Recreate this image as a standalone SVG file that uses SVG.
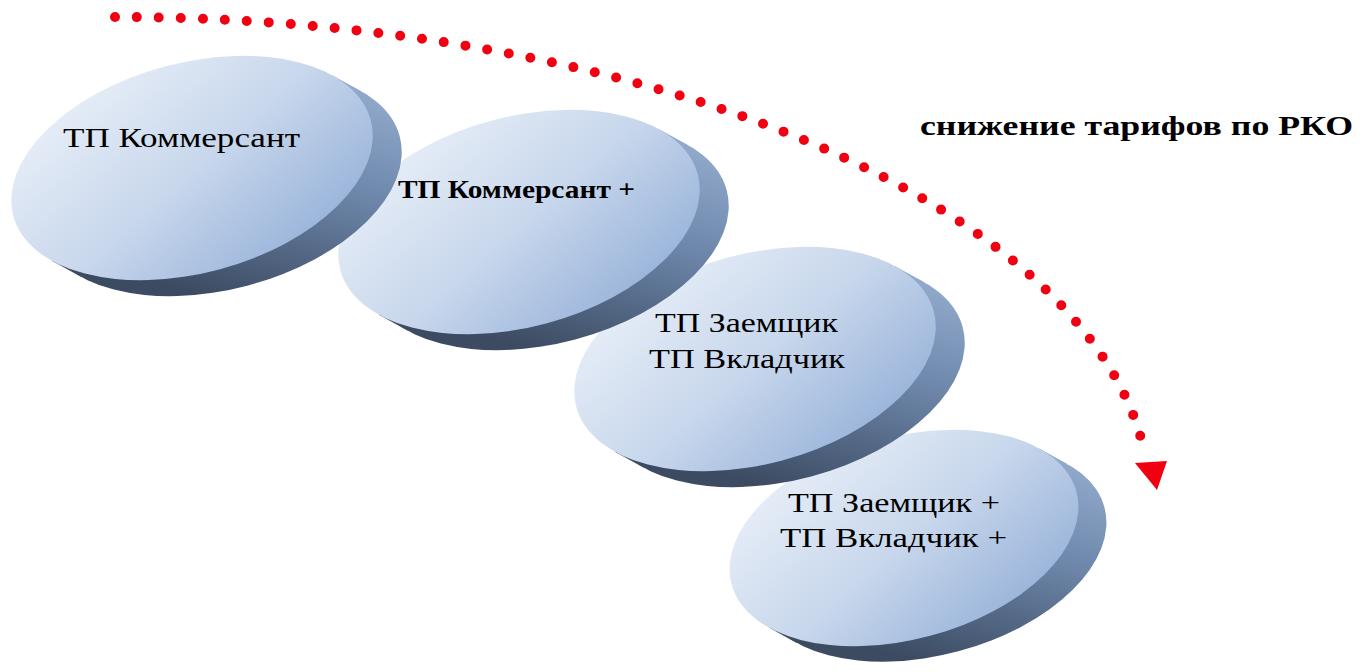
<svg xmlns="http://www.w3.org/2000/svg" width="1364" height="672" viewBox="0 0 1364 672">
<defs>
<linearGradient id="face" gradientUnits="userSpaceOnUse" x1="-50" y1="-110" x2="60" y2="110">
<stop offset="0" stop-color="#e3ebf6"/>
<stop offset="0.5" stop-color="#c8d7ec"/>
<stop offset="1" stop-color="#9cb6db"/>
</linearGradient>
<linearGradient id="side" gradientUnits="userSpaceOnUse" x1="140" y1="-90" x2="0" y2="140">
<stop offset="0" stop-color="#9bb3d4"/>
<stop offset="0.45" stop-color="#6f89ad"/>
<stop offset="1" stop-color="#3c4b62"/>
</linearGradient>
<g id="disc">
<g fill="url(#side)">
<ellipse cx="23.87" cy="22.97" rx="185" ry="105"/>
<polygon points="159.4,-53.3 183.3,-30.3 -135.5,76.3 -159.4,53.3"/>
</g>
<ellipse cx="0" cy="0" rx="185" ry="105" fill="url(#face)"/>
</g>
</defs>
<style>
.t{font-family:"Liberation Serif","Times New Roman",serif;font-size:27px;fill:#000}
.b{font-weight:bold}
</style>
<rect width="1364" height="672" fill="#fff"/>
<g id="node4">
<use href="#disc" transform="translate(904,538) rotate(-15) scale(0.965)"/>
<text class="t" x="894" y="512" text-anchor="middle" textLength="212" lengthAdjust="spacingAndGlyphs">ТП Заемщик +</text>
<text class="t" x="893.5" y="547" text-anchor="middle" textLength="227" lengthAdjust="spacingAndGlyphs">ТП Вкладчик +</text>
</g>
<g id="node3">
<use href="#disc" transform="translate(755,359) rotate(-15)"/>
<text class="t" x="746.5" y="332" text-anchor="middle" textLength="183" lengthAdjust="spacingAndGlyphs">ТП Заемщик</text>
<text class="t" x="747" y="368" text-anchor="middle" textLength="196" lengthAdjust="spacingAndGlyphs">ТП Вкладчик</text>
</g>
<g id="node2">
<use href="#disc" transform="translate(519,222) rotate(-15)"/>
<text class="t b" x="398" y="198" style="font-size:25px" textLength="237" lengthAdjust="spacingAndGlyphs">ТП Коммерсант +</text>
</g>
<g id="node1">
<use href="#disc" transform="translate(192,168) rotate(-15)"/>
<text class="t" x="63" y="147" textLength="237" lengthAdjust="spacingAndGlyphs">ТП Коммерсант</text>
</g>
<g id="label">
<text class="t b" x="920" y="135" textLength="433" lengthAdjust="spacingAndGlyphs">снижение тарифов по РКО</text>
</g>
<g id="connectors">
<path d="M115,17 A1035,484 0 0 1 1145,455" fill="none" stroke="#f00010" stroke-width="10" stroke-linecap="round" stroke-dasharray="0 22"/>
<polygon points="1135,463 1167,461 1157,490" fill="#f00010"/>
</g>
</svg>
